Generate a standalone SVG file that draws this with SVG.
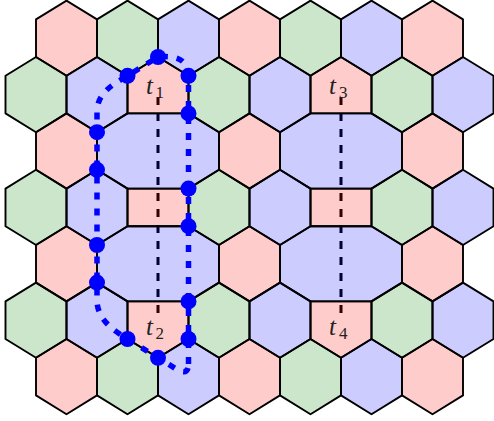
<svg xmlns="http://www.w3.org/2000/svg" xmlns:xlink="http://www.w3.org/1999/xlink" width="494" height="421" viewBox="0 0 494 421">
<style>
.c{stroke:#000;stroke-width:1.9;stroke-linejoin:round;fill-opacity:0.2}
.P{fill:#ff0000}
.G{fill:#008000}
.B{fill:#0000ff}
.cut{stroke:#000;stroke-width:3;stroke-dasharray:8 8;fill:none}
.loop{stroke:#0000ff;stroke-width:5.5;stroke-dasharray:7 9;fill:none}
.dot{fill:#0000ff}
.lbl{font-family:"Liberation Serif","DejaVu Serif",serif;font-style:italic;font-size:25px;fill:#222}
.sub{font-family:"Liberation Serif","DejaVu Serif",serif;font-style:normal;font-size:17px;fill:#222}
</style>
<defs>
<polygon id="hx" points="0,-37.6 30.5,-18.8 30.5,18.8 0,37.6 -30.5,18.8 -30.5,-18.8"/>
</defs>
<rect width="494" height="421" fill="#fff"/>
<g id="connectors">
<line class="cut" x1="158" y1="97" x2="158" y2="313"/>
<line class="cut" x1="341" y1="97" x2="341" y2="313"/>
</g>
<g id="cells">
<g id="row0">
<use xlink:href="#hx" x="66.5" y="38.2" class="c P"/>
<use xlink:href="#hx" x="127.5" y="38.2" class="c G"/>
<use xlink:href="#hx" x="188.5" y="38.2" class="c B"/>
<use xlink:href="#hx" x="249.5" y="38.2" class="c P"/>
<use xlink:href="#hx" x="310.5" y="38.2" class="c G"/>
<use xlink:href="#hx" x="371.5" y="38.2" class="c B"/>
<use xlink:href="#hx" x="432.5" y="38.2" class="c P"/>
</g>
<g id="row1">
<use xlink:href="#hx" x="36" y="94.6" class="c G"/>
<use xlink:href="#hx" x="97" y="94.6" class="c B"/>
<polygon id="t1cell" class="c P" points="158,57 188.5,75.8 188.5,113.4 127.5,113.4 127.5,75.8"/>
<use xlink:href="#hx" x="219" y="94.6" class="c G"/>
<use xlink:href="#hx" x="280" y="94.6" class="c B"/>
<polygon id="t3cell" class="c P" points="341,57 371.5,75.8 371.5,113.4 310.5,113.4 310.5,75.8"/>
<use xlink:href="#hx" x="402" y="94.6" class="c G"/>
<use xlink:href="#hx" x="463" y="94.6" class="c B"/>
</g>
<g id="row2">
<use xlink:href="#hx" x="66.5" y="151" class="c P"/>
<polygon id="mergeA1" class="c B" points="127.5,113.4 188.5,113.4 219,132.2 219,169.8 188.5,188.6 127.5,188.6 97,169.8 97,132.2"/>
<use xlink:href="#hx" x="249.5" y="151" class="c P"/>
<polygon id="mergeB1" class="c B" points="310.5,113.4 371.5,113.4 402,132.2 402,169.8 371.5,188.6 310.5,188.6 280,169.8 280,132.2"/>
<use xlink:href="#hx" x="432.5" y="151" class="c P"/>
</g>
<g id="row3">
<use xlink:href="#hx" x="36" y="207.4" class="c G"/>
<use xlink:href="#hx" x="97" y="207.4" class="c B"/>
<polygon id="rectA" class="c P" points="127.5,188.6 188.5,188.6 188.5,226.2 127.5,226.2"/>
<use xlink:href="#hx" x="219" y="207.4" class="c G"/>
<use xlink:href="#hx" x="280" y="207.4" class="c B"/>
<polygon id="rectB" class="c P" points="310.5,188.6 371.5,188.6 371.5,226.2 310.5,226.2"/>
<use xlink:href="#hx" x="402" y="207.4" class="c G"/>
<use xlink:href="#hx" x="463" y="207.4" class="c B"/>
</g>
<g id="row4">
<use xlink:href="#hx" x="66.5" y="263.8" class="c P"/>
<polygon id="mergeA2" class="c B" points="127.5,226.2 188.5,226.2 219,245 219,282.6 188.5,301.4 127.5,301.4 97,282.6 97,245"/>
<use xlink:href="#hx" x="249.5" y="263.8" class="c P"/>
<polygon id="mergeB2" class="c B" points="310.5,226.2 371.5,226.2 402,245 402,282.6 371.5,301.4 310.5,301.4 280,282.6 280,245"/>
<use xlink:href="#hx" x="432.5" y="263.8" class="c P"/>
</g>
<g id="row5">
<use xlink:href="#hx" x="36" y="320.2" class="c G"/>
<use xlink:href="#hx" x="97" y="320.2" class="c B"/>
<polygon id="t2cell" class="c P" points="127.5,301.4 188.5,301.4 188.5,339 158,357.8 127.5,339"/>
<use xlink:href="#hx" x="219" y="320.2" class="c G"/>
<use xlink:href="#hx" x="280" y="320.2" class="c B"/>
<polygon id="t4cell" class="c P" points="310.5,301.4 371.5,301.4 371.5,339 341,357.8 310.5,339"/>
<use xlink:href="#hx" x="402" y="320.2" class="c G"/>
<use xlink:href="#hx" x="463" y="320.2" class="c B"/>
</g>
<g id="row6">
<use xlink:href="#hx" x="66.5" y="376.6" class="c P"/>
<use xlink:href="#hx" x="127.5" y="376.6" class="c G"/>
<use xlink:href="#hx" x="188.5" y="376.6" class="c B"/>
<use xlink:href="#hx" x="249.5" y="376.6" class="c P"/>
<use xlink:href="#hx" x="310.5" y="376.6" class="c G"/>
<use xlink:href="#hx" x="371.5" y="376.6" class="c B"/>
<use xlink:href="#hx" x="432.5" y="376.6" class="c P"/>
</g>
</g>
<g id="labels">
<g id="t1"><text class="lbl" x="146" y="94">t</text><text class="sub" x="155.5" y="98">1</text></g>
<g id="t3"><text class="lbl" x="329" y="94">t</text><text class="sub" x="339" y="98">3</text></g>
<g id="t2"><text class="lbl" x="146" y="335">t</text><text class="sub" x="155.5" y="339">2</text></g>
<g id="t4"><text class="lbl" x="329" y="335">t</text><text class="sub" x="339" y="339">4</text></g>
</g>
<g id="loop">
<path class="loop" d="M188.5,364 L188.5,78 C188.5,60 178,55 158,57 L127.5,75.8 C114.5,83.8 97,92 97,112 L97,300 C97,320 114.5,331 127.5,339 L158,357.8 L176,368.9 Q188.5,376.6 188.5,364 Z"/>
<circle class="dot" cx="158" cy="57" r="8"/>
<circle class="dot" cx="127.5" cy="75.8" r="8"/>
<circle class="dot" cx="188.5" cy="75.8" r="8"/>
<circle class="dot" cx="188.5" cy="113.4" r="8"/>
<circle class="dot" cx="97" cy="132.2" r="8"/>
<circle class="dot" cx="97" cy="169.8" r="8"/>
<circle class="dot" cx="188.5" cy="188.6" r="8"/>
<circle class="dot" cx="188.5" cy="226.2" r="8"/>
<circle class="dot" cx="97" cy="245" r="8"/>
<circle class="dot" cx="97" cy="282.6" r="8"/>
<circle class="dot" cx="188.5" cy="301.4" r="8"/>
<circle class="dot" cx="127.5" cy="339" r="8"/>
<circle class="dot" cx="158" cy="357.8" r="8"/>
<circle class="dot" cx="188.5" cy="339" r="8"/>
</g>
</svg>
